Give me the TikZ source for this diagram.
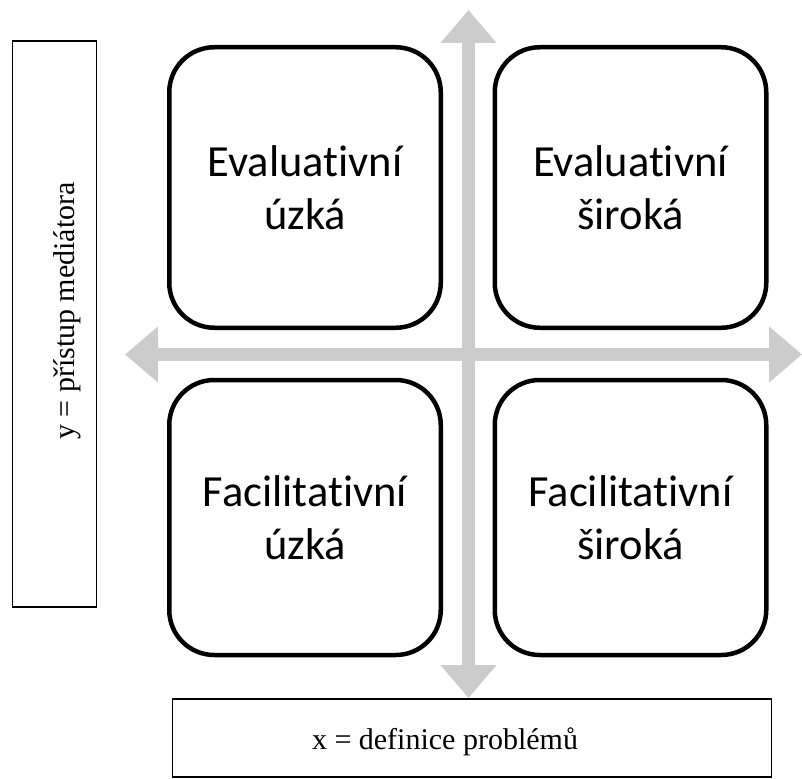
\documentclass[tikz,border=0pt]{standalone}
\usepackage{fontspec}
\setmainfont{Liberation Serif}
\newfontfamily\quadfont[RawFeature={-liga}]{Carlito}
\usetikzlibrary{arrows.meta}
\definecolor{axisgray}{RGB}{204,204,204}
\begin{document}
\begin{tikzpicture}[x=1pt,y=-1pt,
  quad/.style={draw=black,line width=4.5pt,rounded corners=45pt,
    minimum width=271.5pt,inner sep=0pt,align=center,
    font=\quadfont\fontsize{44.5}{53.5}\selectfont},
  labelbox/.style={draw=black,line width=1.5pt,inner sep=0pt},
  axis/.style={draw=axisgray,line width=13.5pt,
    {Triangle[length=33pt,width=54pt]}-{Triangle[length=33pt,width=54pt]}}]
\useasboundingbox (0,0) rectangle (802,778);
% axes
\coordinate (vtop) at (468.5,10);
\coordinate (vbot) at (468.5,698);
\coordinate (hleft) at (125,354.5);
\coordinate (hright) at (802,354.5);
\draw[axis] (vbot) -- (vtop);
\draw[axis] (hleft) -- (hright);
% quadrants
\node[quad,minimum height=280.5pt] (el) at (305,187.5) {Evaluativní\\úzká};
\node[quad,minimum height=280.5pt] (ew) at (630.5,187.5) {Evaluativní\\široká};
\node[quad,minimum height=275pt] (fl) at (305,517.5) {Facilitativní\\úzká};
\node[quad,minimum height=275pt] (fw) at (630.5,517.5) {Facilitativní\\široká};
% label boxes
\node[labelbox,minimum width=84pt,minimum height=566pt] (ybox) at (54.5,324) {};
\node[rotate=90,font=\fontsize{30}{36}\selectfont] (ylab) at (67,311) {y = přístup mediátora};
\node[labelbox,minimum width=599pt,minimum height=78pt] (xbox) at (472,738) {};
\node[font=\fontsize{30}{36}\selectfont] (xlab) at (445,742) {x = definice problémů};
\end{tikzpicture}
\end{document}
